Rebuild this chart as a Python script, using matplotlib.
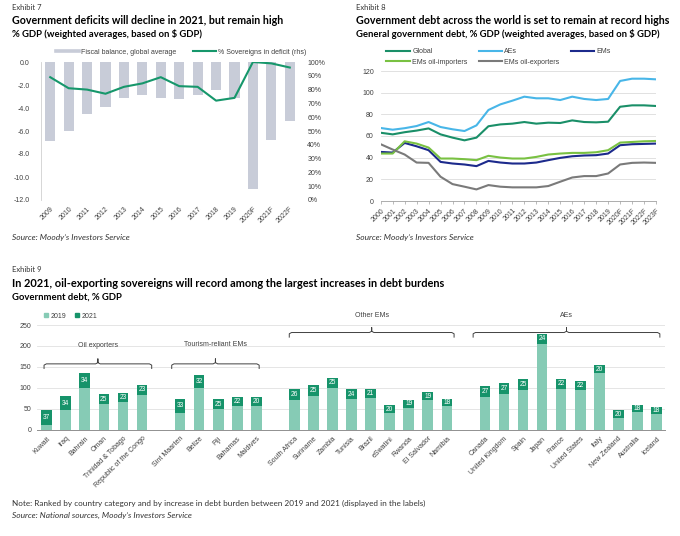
import matplotlib
matplotlib.use('Agg')
import matplotlib.pyplot as plt
import numpy as np
from matplotlib.lines import Line2D

# ---------------- Data ----------------
# Exhibit 7
years7 = ['2009', '2010', '2011', '2012', '2013', '2014', '2015', '2016', '2017',
          '2018', '2019', '2020F', '2021F', '2022F']
fiscal_balance = [-6.9, -6.0, -4.5, -3.95, -3.1, -2.85, -3.1, -3.25, -2.9, -2.45,
                  -3.1, -11.05, -6.8, -5.1]
pct_deficit = [89, 81, 80, 77, 82, 84.5, 89, 82.5, 82, 72, 74, 100, 99, 96]

# Exhibit 8
years8 = ['2000', '2001', '2002', '2003', '2004', '2005', '2006', '2007', '2008',
          '2009', '2010', '2011', '2012', '2013', '2014', '2015', '2016', '2017',
          '2018', '2019', '2020F', '2021F', '2022F', '2023F']
debt_global = [63, 61.5, 63.5, 65, 67, 61.5, 58.5, 56, 58.5, 69, 70.7, 71.4, 72.9,
               71.4, 72.3, 72, 74.4, 72.9, 72.6, 73.2, 87, 88.3, 88.3, 87.7]
debt_aes = [67.4, 65.8, 67.2, 69.2, 72.9, 68.3, 66.2, 64.6, 69.8, 84, 89.2, 92.6,
            96.3, 94.8, 94.8, 93.2, 96.3, 94.2, 93.2, 94.2, 110.8, 112.9, 112.9, 112.3]
debt_ems = [45.3, 44.7, 53.6, 50.5, 46.9, 36.1, 34.6, 33.7, 32.2, 37, 35.5, 34.6,
            34.6, 35.5, 37.7, 39.8, 41.3, 42, 42.3, 43.8, 51.5, 52.4, 52.7, 53]
debt_oil_imp = [43.8, 43.8, 55.1, 53, 49.3, 39.2, 39.2, 38.6, 37.7, 41.7, 40.1,
                39.2, 39.2, 40.7, 42.9, 43.8, 44.4, 44.4, 45, 46.9, 53.9, 54.5,
                55.1, 55.4]
debt_oil_exp = [52.4, 47.5, 42.9, 35.5, 35.2, 22.4, 15.6, 13.2, 10.7, 14.7, 13.2,
                12.6, 12.6, 12.6, 13.8, 17.8, 21.7, 23, 23, 25.4, 33.7, 35.2, 35.5,
                35.2]

# Exhibit 9
countries = ['Kuwait', 'Iraq', 'Bahrain', 'Oman', 'Trinidad & Tobago',
             'Republic of the Congo', '',
             'Sint Maarten', 'Belize', 'Fiji', 'Bahamas', 'Maldives', '',
             'South Africa', 'Suriname', 'Zambia', 'Tunisia', 'Brazil', 'eSwatini',
             'Rwanda', 'El Salvador', 'Namibia', '',
             'Canada', 'United Kingdom', 'Spain', 'Japan', 'France',
             'United States', 'Italy', 'New Zealand', 'Australia', 'Iceland']
debt_2019 = [10, 46, 100, 60, 65, 83, None,
             40, 99, 48, 56, 57, None,
             70, 81, 99, 72, 76, 39, 52, 70, 56, None,
             78, 85, 95, 205, 98, 94, 134, 27, 41, 37]
increase = [37, 34, 34, 25, 23, 23, None,
            33, 32, 25, 22, 20, None,
            26, 25, 25, 24, 21, 20, 19, 19, 18, None,
            27, 27, 25, 24, 22, 22, 20, 20, 18, 18]
groups = ['Oil exporters', 'Tourism-reliant EMs', 'Other EMs', 'AEs']

# ---------------- Layout helpers ----------------
W, H = 680, 536
def fx(px):
    return px / W
def fy(py):
    return 1 - py / H

TITLE_FONT = ['Lato', 'DejaVu Sans']
CHART_FONT = ['Liberation Sans', 'DejaVu Sans']
plt.rcParams['font.family'] = CHART_FONT

fig = plt.figure(figsize=(6.8, 5.36), dpi=100)
fig.patch.set_facecolor('white')

TXT = '#404040'
TS = 5.0

def header(x, y0, ex, title, sub, tsize=7.8):
    fig.text(fx(x), fy(y0), ex, fontsize=5.5, family=TITLE_FONT, color='#333333',
             va='center', ha='left')
    fig.text(fx(x), fy(y0 + 13.5), title, fontsize=tsize, family=TITLE_FONT,
             weight='bold', color='black', va='center', ha='left')
    fig.text(fx(x), fy(y0 + 27), sub, fontsize=6.85, family=TITLE_FONT,
             weight='bold', color='black', va='center', ha='left')

header(12, 7, 'Exhibit 7', 'Government deficits will decline in 2021, but remain high',
       '% GDP (weighted averages, based on $ GDP)', 7.65)
header(356, 7, 'Exhibit 8', 'Government debt across the world is set to remain at record highs',
       'General government debt, % GDP (weighted averages, based on $ GDP)', 7.65)
header(12, 270, 'Exhibit 9',
       'In 2021, oil-exporting sovereigns will record among the largest increases in debt burdens',
       'Government debt, % GDP', 7.9)

SRC = 6.0
fig.text(fx(12), fy(237), "Source: Moody\u2019s Investors Service", fontsize=SRC,
         family=TITLE_FONT, style='italic', color='#333333', va='center')
fig.text(fx(356), fy(237), "Source: Moody\u2019s Investors Service", fontsize=SRC,
         family=TITLE_FONT, style='italic', color='#333333', va='center')
fig.text(fx(12), fy(503),
         'Note: Ranked by country category and by increase in debt burden between 2019 and 2021 (displayed in the labels)',
         fontsize=5.9, family=TITLE_FONT, color='#333333', va='center')
fig.text(fx(12), fy(515), "Source: National sources, Moody\u2019s Investors Service",
         fontsize=SRC, family=TITLE_FONT, style='italic', color='#333333', va='center')

# ---------------- Exhibit 7 ----------------
ax7 = fig.add_axes([fx(41), fy(200), fx(299) - fx(41), fy(62) - fy(200)])
x7 = np.arange(len(years7))
ax7.bar(x7, fiscal_balance, width=0.55, color='#c8ccd8', zorder=2,
        label='Fiscal balance, global average')
ax7.set_xlim(-0.5, len(years7) - 0.5)
ax7.set_ylim(-12, 0)
ax7.set_yticks(np.arange(-12, 0.1, 2))
ax7.set_yticklabels([f'{v:.1f}' for v in np.arange(-12, 0.1, 2)])
ax7.set_xticks(x7)
ax7.set_xticklabels(years7, rotation=45, ha='right', rotation_mode='anchor')
for s in ['top', 'right', 'bottom']:
    ax7.spines[s].set_visible(False)
ax7.spines['left'].set_color('#d0d0d0')
ax7.spines['left'].set_linewidth(0.6)
ax7.tick_params(axis='both', length=0, labelsize=TS, colors=TXT)
ax7.tick_params(axis='y', pad=8)
ax7.tick_params(axis='x', pad=4)

ax7r = ax7.twinx()
ax7r.plot(x7, pct_deficit, color='#16976b', lw=1.5, zorder=3,
          label='% Sovereigns in deficit (rhs)')
ax7r.set_ylim(0, 100)
ax7r.set_yticks(np.arange(0, 101, 10))
ax7r.set_yticklabels([f'{v}%' for v in range(0, 101, 10)])
for s in ax7r.spines.values():
    s.set_visible(False)
ax7r.tick_params(axis='y', length=0, labelsize=TS, colors=TXT, pad=6)

h7 = [Line2D([0], [0], color='#c8ccd8', lw=2.6),
      Line2D([0], [0], color='#16976b', lw=1.5)]
fig.legend(h7, ['Fiscal balance, global average', '% Sovereigns in deficit (rhs)'],
           loc='center left', bbox_to_anchor=(fx(53), fy(52)), ncol=2,
           frameon=False, fontsize=TS, handlelength=3.3, handletextpad=0.3,
           columnspacing=2.3, borderpad=0, labelcolor=TXT)

# ---------------- Exhibit 8 ----------------
ax8 = fig.add_axes([fx(380.7), fy(201), fx(656) - fx(380.7), fy(71) - fy(201)])
x8 = np.arange(len(years8))
series8 = [('Global', debt_global, '#1a8f68'),
           ('AEs', debt_aes, '#48b6e8'),
           ('EMs', debt_ems, '#1c2a8c'),
           ('EMs oil-importers', debt_oil_imp, '#79c142'),
           ('EMs oil-exporters', debt_oil_exp, '#7a7a7a')]
lines8 = {}
for name, vals, col in series8:
    ln, = ax8.plot(x8, vals, color=col, lw=1.5, zorder=3, label=name)
    lines8[name] = ln
ax8.set_xlim(0, len(years8) - 1)
ax8.set_ylim(0, 120)
ax8.set_yticks(np.arange(0, 121, 20))
ax8.yaxis.grid(True, color='#dcdcdc', lw=0.6)
ax8.set_axisbelow(True)
ax8.set_xticks(x8)
ax8.set_xticklabels(years8, rotation=45, ha='right', rotation_mode='anchor')
for s in ['top', 'right', 'left']:
    ax8.spines[s].set_visible(False)
ax8.spines['bottom'].set_color('#a0a0a0')
ax8.spines['bottom'].set_linewidth(0.6)
ax8.tick_params(axis='y', length=0, labelsize=TS, colors=TXT, pad=5)
ax8.tick_params(axis='x', length=2.5, width=0.5, color='#a0a0a0', labelsize=TS,
                colors=TXT, pad=2)
order = ['Global', 'EMs oil-importers', 'AEs', 'EMs oil-exporters', 'EMs']
fig.legend([lines8[n] for n in order], order, loc='center left',
           bbox_to_anchor=(fx(383), fy(57)), ncol=3, frameon=False, fontsize=TS,
           handlelength=3.4, handletextpad=0.3, columnspacing=1.6,
           labelspacing=0.45, borderpad=0, labelcolor=TXT)

# ---------------- Exhibit 9 ----------------
ax9 = fig.add_axes([fx(37), fy(429.5), fx(665) - fx(37), fy(325) - fy(429.5)])
x9 = np.arange(len(countries))
LIGHT, DARK = '#86cbb5', '#16936a'
for i, (b, inc) in enumerate(zip(debt_2019, increase)):
    if b is None:
        continue
    ax9.bar(i, b, width=0.56, color=LIGHT, zorder=2)
    ax9.bar(i, inc, bottom=b, width=0.56, color=DARK, zorder=2)
    ax9.text(i, b + inc / 2, f'{inc}', color='white', fontsize=4.8,
             ha='center', va='center', zorder=4)
ax9.set_xlim(-0.51, 32.45)
ax9.set_ylim(0, 250)
ax9.set_yticks(np.arange(0, 251, 50))
ax9.yaxis.grid(True, color='#e0e0e0', lw=0.6)
ax9.set_axisbelow(True)
ax9.set_xticks([i for i, c in enumerate(countries) if c])
ax9.set_xticklabels([c for c in countries if c], rotation=45, ha='right',
                    rotation_mode='anchor')
for s in ['top', 'right', 'left']:
    ax9.spines[s].set_visible(False)
ax9.spines['bottom'].set_color('#909090')
ax9.spines['bottom'].set_linewidth(0.7)
ax9.tick_params(axis='y', length=0, labelsize=TS, colors=TXT, pad=4)
ax9.tick_params(axis='x', length=0, labelsize=TS, colors=TXT, pad=4)

# group braces (x extents in slot units, line level, label level)
brace_layout = [(-0.14, 5.51, 157, 200), (6.56, 11.15, 157, 203),
                (12.73, 21.38, 232, 272), (22.38, 32.18, 232, 272)]
for name, (x0, x1, yl, ylab) in zip(groups, brace_layout):
    xc = (x0 + x1) / 2
    d = 0.12
    bx = [x0, x0, x0 + d, xc - d, xc, xc, xc, xc + d, x1 - d, x1, x1]
    by = [yl - 11, yl - 3, yl, yl, yl + 3, yl + 12, yl + 3, yl, yl, yl - 3, yl - 11]
    ax9.plot(bx, by, color='#404040', lw=0.7, clip_on=False, zorder=3)
    ax9.text(xc, ylab, name, fontsize=TS, ha='center', va='center', color=TXT,
             clip_on=False)

h9 = [Line2D([0], [0], marker='s', color=LIGHT, lw=0, markersize=3),
      Line2D([0], [0], marker='s', color=DARK, lw=0, markersize=3)]
fig.legend(h9, ['2019', '2021'], loc='center left', bbox_to_anchor=(fx(40), fy(316)),
           ncol=2, frameon=False, fontsize=TS, handlelength=0.8, handletextpad=0.2,
           columnspacing=1.2, borderpad=0, labelcolor=TXT)

fig.savefig('out.png', dpi=100, facecolor='white')
